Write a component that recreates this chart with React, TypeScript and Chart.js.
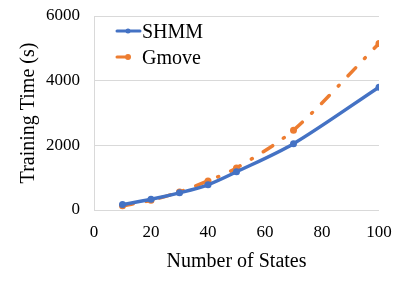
import React, { useEffect, useRef } from "react";
import { Chart, registerables } from "chart.js";
Chart.register(...registerables);

const xValues = [10, 20, 30, 40, 50, 70, 100];
const shmmValues = [170, 330, 530, 780, 1180, 2050, 3800];
const gmoveValues = [130, 300, 560, 900, 1300, 2470, 5150];
const seriesNames = ["SHMM", "Gmove"];
const xTitle = "Number of States";
const yTitle = "Training Time (s)";

const BLUE = "#4472C4";
const ORANGE = "#ED7D31";
const FONT = '"Liberation Serif", serif';

const legendPlugin = {
  id: "customLegend",
  afterDraw(chart: any) {
    const ctx = chart.ctx;
    const { left, top } = chart.chartArea;
    ctx.save();
    ctx.font = `20px ${FONT}`;
    ctx.textBaseline = "middle";
    ctx.lineCap = "round";
    ctx.lineWidth = 3;
    // SHMM
    let y = top + 15;
    ctx.strokeStyle = BLUE;
    ctx.fillStyle = BLUE;
    ctx.beginPath();
    ctx.moveTo(left + 23, y);
    ctx.lineTo(left + 46, y);
    ctx.stroke();
    ctx.beginPath();
    ctx.arc(left + 34, y, 2.5, 0, Math.PI * 2);
    ctx.fill();
    ctx.fillStyle = "#000";
    ctx.fillText(chart.data.datasets[0].label, left + 48, y + 2);
    // Gmove
    y = top + 41;
    ctx.strokeStyle = ORANGE;
    ctx.fillStyle = ORANGE;
    ctx.beginPath();
    ctx.moveTo(left + 23, y);
    ctx.lineTo(left + 31, y);
    ctx.stroke();
    ctx.beginPath();
    ctx.arc(left + 34, y, 3, 0, Math.PI * 2);
    ctx.fill();
    ctx.fillStyle = "#000";
    ctx.fillText(chart.data.datasets[1].label, left + 48, y + 2);
    ctx.restore();
  },
};

export default function App() {
  const ref = useRef<HTMLCanvasElement>(null);
  useEffect(() => {
    document.body.style.margin = "0";
    const canvas = ref.current!;
    let chart: Chart | null = null;
    let cancelled = false;
    const build = () => {
      if (cancelled) return;
      chart = new Chart(canvas, {
        type: "line",
        data: {
          datasets: [
            {
              label: seriesNames[0],
              data: xValues.map((x, i) => ({ x, y: shmmValues[i] })),
              borderColor: BLUE,
              backgroundColor: BLUE,
              borderWidth: 3.5,
              pointRadius: 3.5,
              pointBorderWidth: 0,
              tension: 0.3,
              borderCapStyle: "round",
            },
            {
              label: seriesNames[1],
              data: xValues.map((x, i) => ({ x, y: gmoveValues[i] })),
              borderColor: ORANGE,
              backgroundColor: ORANGE,
              borderWidth: 3.5,
              borderDash: [11, 13, 1, 13],
              borderCapStyle: "round",
              pointRadius: 3.5,
              pointBorderWidth: 0,
              tension: 0.3,
            },
          ],
        },
        options: {
          responsive: false,
          animation: false,
          devicePixelRatio: 1,
          layout: { padding: { left: 0, right: 28, top: 16, bottom: 0 } },
          plugins: { legend: { display: false }, tooltip: { enabled: false } },
          scales: {
            x: {
              type: "linear",
              min: 0,
              max: 100,
              ticks: { stepSize: 20, color: "#000", font: { family: FONT, size: 17 }, padding: 12 },
              grid: { display: false, drawTicks: false },
              border: { display: false },
              title: {
                display: true,
                text: xTitle,
                color: "#000",
                font: { family: FONT, size: 20 },
                padding: { top: 0, bottom: 12 },
              },
              afterFit: (s: any) => {
                s.height = 76;
                s.paddingLeft = 0;
                s.paddingRight = 0;
              },
            },
            y: {
              min: 0,
              max: 6000,
              ticks: {
                stepSize: 2000,
                color: "#000",
                font: { family: FONT, size: 17 },
                padding: 14,
                callback: (v: any) => String(v),
              },
              grid: { color: "#d9d9d9", lineWidth: 1, drawTicks: false },
              border: { display: true, color: "#d9d9d9", width: 1 },
              title: {
                display: true,
                text: yTitle,
                color: "#000",
                font: { family: FONT, size: 20 },
                padding: { top: 17, bottom: 0 },
              },
              afterFit: (s: any) => {
                s.width = 94;
                s.paddingTop = 0;
                s.paddingBottom = 0;
              },
            },
          },
        },
        plugins: [legendPlugin],
      });
    };
    const fonts: any = (document as any).fonts;
    if (fonts && fonts.load) {
      Promise.all([fonts.load('17px "Liberation Serif"'), fonts.load('20px "Liberation Serif"')])
        .catch(() => {})
        .then(build);
    } else {
      build();
    }
    return () => {
      cancelled = true;
      if (chart) chart.destroy();
    };
  }, []);
  return (
    <div style={{ width: 407, height: 286 }}>
      <canvas ref={ref} width={407} height={286} style={{ display: "block" }} />
    </div>
  );
}
